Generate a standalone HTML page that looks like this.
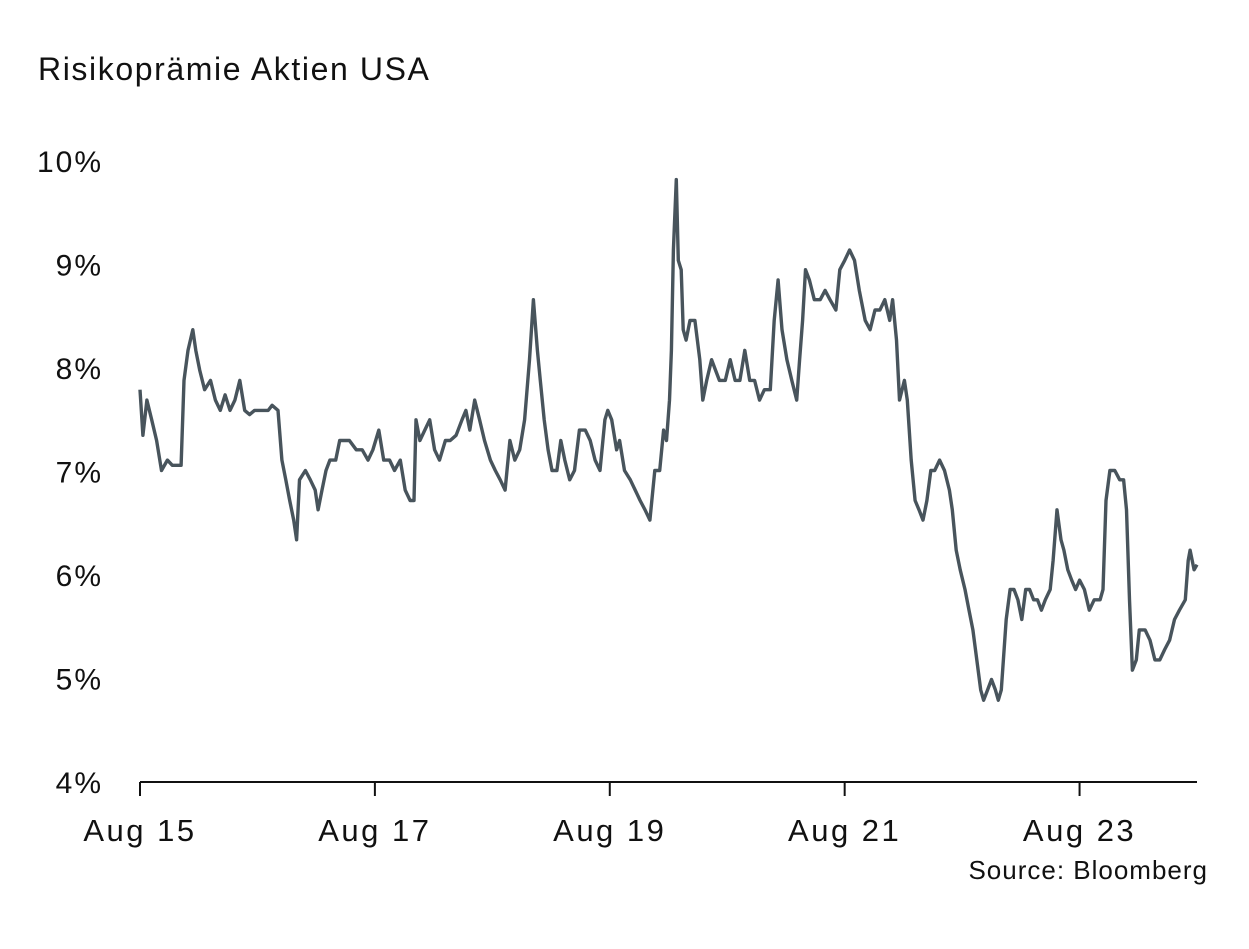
<!DOCTYPE html>
<html><head><meta charset="utf-8">
<style>
html,body{margin:0;padding:0;background:#fff;}
svg{display:block;font-family:"Liberation Sans",sans-serif;}
</style></head>
<body>
<svg id="chart" width="1249" height="949" viewBox="0 0 1249 949">
<text x="38" y="80" font-size="32" letter-spacing="1.6" fill="#111">Risikoprämie Aktien USA</text>
<g id="yaxis"></g>
<g id="xaxis"></g>
<path id="line" fill="none" stroke="#48545c" stroke-width="3.4" stroke-linejoin="round"></path>
<text x="1208" y="879" font-size="26" letter-spacing="1" text-anchor="end" fill="#111">Source: Bloomberg</text>
</svg>
<script>
const yTicks=[4,5,6,7,8,9,10];
const yTickLabels=["4%","5%","6%","7%","8%","9%","10%"];
const xTicks=[0,24,48,72,96];
const xTickLabels=["Aug 15","Aug 17","Aug 19","Aug 21","Aug 23"];
const months=[0,0.3,0.7,1.2,1.7,2.2,2.8,3.3,3.9,4.2,4.5,4.9,5.4,5.7,6.1,6.6,7.2,7.7,8.2,8.7,9.2,9.7,10.2,10.7,11.2,11.7,12.5,13.1,13.5,14.1,14.5,14.9,15.3,15.7,16.0,16.3,16.9,17.4,17.9,18.2,18.6,19.0,19.4,20.0,20.4,20.9,21.4,22.1,22.7,23.3,23.8,24.4,24.9,25.5,26.0,26.6,27.1,27.6,28.0,28.2,28.6,29.1,29.6,30.1,30.6,31.2,31.7,32.3,32.9,33.3,33.7,34.2,34.7,35.2,35.8,36.3,36.8,37.3,37.8,38.3,38.8,39.3,39.8,40.2,40.6,40.9,41.3,41.7,42.1,42.6,43.0,43.4,43.9,44.4,44.9,45.5,46.0,46.5,47.0,47.5,47.8,48.2,48.7,49.0,49.5,50.1,50.6,51.1,51.6,52.1,52.6,53.1,53.5,53.8,54.1,54.3,54.5,54.8,55.0,55.3,55.5,55.8,56.2,56.7,57.2,57.5,57.9,58.4,58.8,59.2,59.8,60.3,60.8,61.3,61.8,62.3,62.8,63.3,63.8,64.4,64.8,65.2,65.6,66.1,66.6,67.1,67.4,67.7,68.0,68.4,68.9,69.5,70.0,70.5,71.1,71.5,72.0,72.5,73.0,73.5,74.1,74.6,75.1,75.6,76.1,76.6,76.9,77.3,77.6,78.1,78.4,78.8,79.2,79.6,80.0,80.4,80.8,81.2,81.7,82.2,82.7,83.0,83.4,83.8,84.3,84.7,85.1,85.5,85.9,86.2,86.6,87.0,87.4,87.7,88.0,88.5,88.9,89.3,89.7,90.1,90.5,90.9,91.3,91.7,92.1,92.5,93.0,93.3,93.7,94.1,94.4,94.8,95.2,95.6,96.0,96.5,97.0,97.5,98.1,98.4,98.7,99.1,99.6,100.1,100.5,100.8,101.1,101.4,101.8,102.1,102.7,103.2,103.7,104.2,104.7,105.2,105.7,106.2,106.8,107.1,107.3,107.7,108.0];
const premium=[7.79,7.35,7.69,7.50,7.30,7.01,7.11,7.06,7.06,7.06,7.88,8.17,8.37,8.17,7.98,7.79,7.88,7.69,7.59,7.74,7.59,7.69,7.88,7.59,7.55,7.59,7.59,7.59,7.64,7.59,7.11,6.92,6.72,6.53,6.34,6.92,7.01,6.92,6.82,6.63,6.82,7.01,7.11,7.11,7.30,7.30,7.30,7.21,7.21,7.11,7.21,7.40,7.11,7.11,7.01,7.11,6.82,6.72,6.72,7.50,7.30,7.40,7.50,7.21,7.11,7.30,7.30,7.35,7.50,7.59,7.40,7.69,7.50,7.30,7.11,7.01,6.92,6.82,7.30,7.11,7.21,7.50,8.08,8.66,8.17,7.88,7.50,7.21,7.01,7.01,7.30,7.11,6.92,7.01,7.40,7.40,7.30,7.11,7.01,7.50,7.59,7.50,7.21,7.30,7.01,6.92,6.82,6.72,6.63,6.53,7.01,7.01,7.40,7.30,7.69,8.17,9.14,9.82,9.04,8.95,8.37,8.27,8.46,8.46,8.08,7.69,7.88,8.08,7.98,7.88,7.88,8.08,7.88,7.88,8.17,7.88,7.88,7.69,7.79,7.79,8.46,8.85,8.37,8.08,7.88,7.69,8.08,8.46,8.95,8.85,8.66,8.66,8.75,8.66,8.56,8.95,9.04,9.14,9.04,8.75,8.46,8.37,8.56,8.56,8.66,8.46,8.66,8.27,7.69,7.88,7.69,7.11,6.72,6.63,6.53,6.72,7.01,7.01,7.11,7.01,6.82,6.63,6.24,6.05,5.86,5.66,5.47,5.18,4.89,4.79,4.89,4.99,4.89,4.79,4.89,5.57,5.86,5.86,5.76,5.57,5.86,5.86,5.76,5.76,5.66,5.76,5.86,6.14,6.63,6.34,6.24,6.05,5.95,5.86,5.95,5.86,5.66,5.76,5.76,5.86,6.72,7.01,7.01,6.92,6.92,6.63,5.76,5.08,5.18,5.47,5.47,5.37,5.18,5.18,5.28,5.37,5.57,5.66,5.76,6.14,6.24,6.05,6.10];

const X0=140,X1=1197,Y0=782,Y1=161;
function xs(m){return X0+(m/108)*(X1-X0);}
function ys(v){return Y0-(v-4)/6*(Y0-Y1);}
const NS="http://www.w3.org/2000/svg";
const ya=document.getElementById('yaxis'),xa=document.getElementById('xaxis');
yTicks.forEach((t,i)=>{
  const tx=document.createElementNS(NS,'text');
  tx.setAttribute('x',103);tx.setAttribute('y',ys(t)+11);
  tx.setAttribute('text-anchor','end');tx.setAttribute('font-size','30');tx.setAttribute('letter-spacing','2');tx.setAttribute('fill','#111');
  tx.textContent=yTickLabels[i];
  
  
  ya.appendChild(tx);
});
const base=document.createElementNS(NS,'line');
base.setAttribute('x1',X0);base.setAttribute('x2',X1);base.setAttribute('y1',Y0);base.setAttribute('y2',Y0);
base.setAttribute('stroke','#111');base.setAttribute('stroke-width','2');


xa.appendChild(base);
xTicks.forEach((t,i)=>{
  const l=document.createElementNS(NS,'line');
  l.setAttribute('x1',xs(t));l.setAttribute('x2',xs(t));l.setAttribute('y1',Y0);l.setAttribute('y2',Y0+14);
  l.setAttribute('stroke','#111');l.setAttribute('stroke-width','2');
  
  
  xa.appendChild(l);
  const tx=document.createElementNS(NS,'text');
  tx.setAttribute('x',xs(t));tx.setAttribute('y',841);
  tx.setAttribute('text-anchor','middle');tx.setAttribute('font-size','31');tx.setAttribute('letter-spacing','2.5');tx.setAttribute('fill','#111');
  tx.textContent=xTickLabels[i];
  
  
  xa.appendChild(tx);
});
let d='';
const n=Math.min(months.length,premium.length);
for(let i=0;i<n;i++){d+=(i?'L':'M')+xs(months[i]).toFixed(1)+','+ys(premium[i]).toFixed(1);}
document.getElementById('line').setAttribute('d',d);
</script>
</body></html>
